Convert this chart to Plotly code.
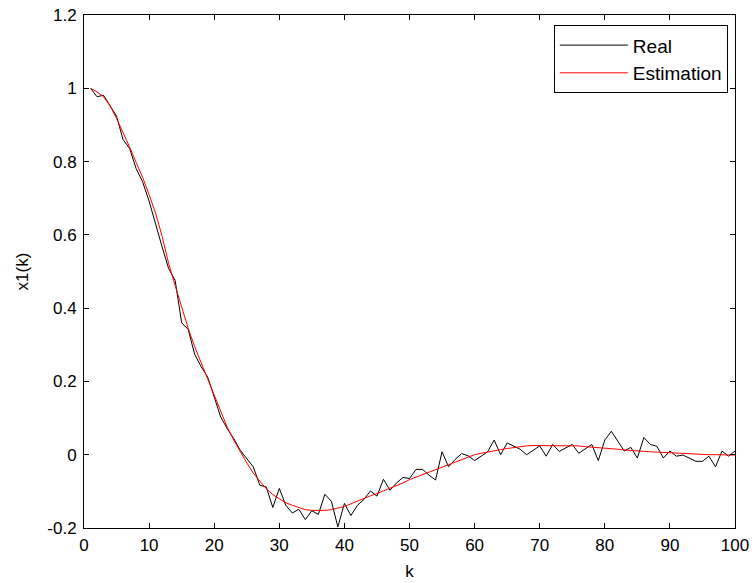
import plotly.graph_objects as go

k = list(range(1, 101))

real = [1.000, 0.977, 0.981, 0.954, 0.924, 0.860, 0.836, 0.781, 0.745, 0.692,
        0.626, 0.567, 0.508, 0.476, 0.360, 0.342, 0.274, 0.240, 0.212, 0.160,
        0.103, 0.071, 0.044, 0.012, -0.010, -0.033, -0.083, -0.088, -0.144, -0.092,
        -0.138, -0.159, -0.149, -0.177, -0.153, -0.163, -0.108, -0.127, -0.197, -0.133,
        -0.166, -0.138, -0.122, -0.099, -0.113, -0.067, -0.097, -0.077, -0.062, -0.065,
        -0.040, -0.040, -0.056, -0.069, 0.008, -0.033, -0.013, 0.003, -0.003, -0.016,
        -0.004, 0.008, 0.040, 0.000, 0.032, 0.023, 0.015, 0.000, 0.012, 0.024,
        -0.004, 0.028, 0.009, 0.019, 0.028, 0.004, 0.016, 0.028, -0.016, 0.040,
        0.064, 0.037, 0.010, 0.020, -0.009, 0.047, 0.028, 0.023, -0.009, 0.010,
        -0.004, -0.001, -0.010, -0.018, -0.018, -0.004, -0.033, 0.010, -0.004, 0.010]

estimation = [1.000, 0.990, 0.977, 0.952, 0.918, 0.880, 0.840, 0.798, 0.757, 0.710,
              0.659, 0.596, 0.522, 0.462, 0.402, 0.345, 0.295, 0.250, 0.205, 0.160,
              0.115, 0.075, 0.040, 0.008, -0.022, -0.050, -0.073, -0.093, -0.109, -0.121,
              -0.131, -0.138, -0.145, -0.150, -0.152, -0.153, -0.152, -0.150, -0.146, -0.141,
              -0.134, -0.126, -0.119, -0.112, -0.106, -0.099, -0.091, -0.084, -0.077, -0.068,
              -0.061, -0.054, -0.047, -0.040, -0.033, -0.026, -0.019, -0.012, -0.006, 0.000,
              0.004, 0.008, 0.011, 0.014, 0.017, 0.020, 0.022, 0.024, 0.025, 0.025,
              0.026, 0.026, 0.026, 0.026, 0.025, 0.024, 0.022, 0.021, 0.020, 0.019,
              0.017, 0.015, 0.013, 0.011, 0.010, 0.009, 0.008, 0.007, 0.006, 0.005,
              0.004, 0.003, 0.002, 0.001, 0.000, 0.000, 0.000, -0.001, -0.001, -0.001]

x_ticks = [0, 10, 20, 30, 40, 50, 60, 70, 80, 90, 100]
y_ticks = [-0.2, 0, 0.2, 0.4, 0.6, 0.8, 1.0, 1.2]
y_ticktext = ["-0.2", "0", "0.2", "0.4", "0.6", "0.8", "1", "1.2"]

FONT = "Arial, Liberation Sans, sans-serif"
FS = 17
LEG_FS = 19

fig = go.Figure()
fig.add_trace(go.Scatter(x=k, y=real, mode="lines", name="Real",
                         line=dict(color="black", width=1), legendgroup="a"))
fig.add_trace(go.Scatter(x=k, y=estimation, mode="lines", name="Estimation",
                         line=dict(color="#ff0000", width=1), legendgroup="b"))

axis_common = dict(showgrid=False, zeroline=False, showline=True, linecolor="black",
                   linewidth=1, mirror="ticks", ticks="inside", ticklen=5,
                   tickcolor="black", automargin=False,
                   tickfont=dict(family=FONT, size=FS, color="black"))

fig.update_layout(
    width=755, height=583,
    margin=dict(l=84, r=20, t=15, b=55),
    paper_bgcolor="white", plot_bgcolor="white",
    font=dict(family=FONT, size=FS, color="black"),
    xaxis=dict(range=[0, 100], tickvals=x_ticks, ticklabelstandoff=2,
               title=dict(text="k", font=dict(family=FONT, size=FS), standoff=10),
               **axis_common),
    yaxis=dict(range=[-0.2, 1.2], tickvals=y_ticks, ticktext=y_ticktext,
               ticklabelstandoff=3,
               title=dict(text="x1(k)", font=dict(family=FONT, size=FS), standoff=14),
               **axis_common),
    legend=dict(x=0.989, y=0.980, xanchor="right", yanchor="top",
                bgcolor="white", bordercolor="black", borderwidth=1,
                font=dict(family=FONT, size=LEG_FS, color="black"),
                itemwidth=68, traceorder="grouped", tracegroupgap=0),
    showlegend=True,
)

fig.write_html("out.html")
